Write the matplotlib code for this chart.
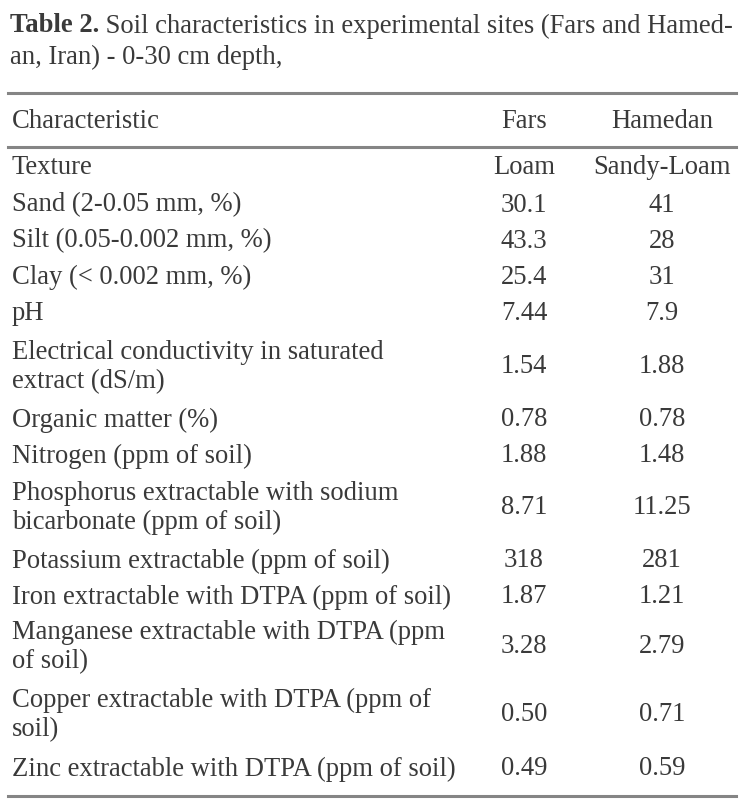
import matplotlib
matplotlib.use("Agg")
import matplotlib.pyplot as plt
from matplotlib.lines import Line2D

W, H = 746, 804
FONT = "Liberation Serif"
TXT = "#3a3a3a"
RULE = "#858585"

title_bold = "Table 2."
title_rest1 = " Soil characteristics in experimental sites (Fars and Hamed-"
title_rest2 = "an, Iran) - 0-30 cm depth,"

col_headers = ["Characteristic", "Fars", "Hamedan"]
characteristics = [
    "Texture",
    "Sand (2-0.05 mm, %)",
    "Silt (0.05-0.002 mm, %)",
    "Clay (< 0.002 mm, %)",
    "pH",
    "Electrical conductivity in saturated\nextract (dS/m)",
    "Organic matter (%)",
    "Nitrogen (ppm of soil)",
    "Phosphorus extractable with sodium\nbicarbonate (ppm of soil)",
    "Potassium extractable (ppm of soil)",
    "Iron extractable with DTPA (ppm of soil)",
    "Manganese extractable with DTPA (ppm\nof soil)",
    "Copper extractable with DTPA (ppm of\nsoil)",
    "Zinc extractable with DTPA (ppm of soil)",
]
fars = ["Loam", "30.1", "43.3", "25.4", "7.44", "1.54", "0.78", "1.88",
        "8.71", "318", "1.87", "3.28", "0.50", "0.49"]
hamedan = ["Sandy-Loam", "41", "28", "31", "7.9", "1.88", "0.78", "1.48",
           "11.25", "281", "1.21", "2.79", "0.71", "0.59"]

fig = plt.figure(figsize=(W / 100, H / 100), dpi=100)
fig.patch.set_facecolor("white")

def fy(y):
    return 1 - y / H

def fx(x):
    return x / W

FS = 19.2

# title
renderer = fig.canvas.get_renderer()
t = fig.text(fx(10), fy(26), title_bold, fontsize=FS, fontweight="bold",
             family=FONT, color=TXT, va="center", ha="left")
bb = t.get_window_extent(renderer=renderer)
fig.text(bb.x1 / W, fy(26), title_rest1, fontsize=FS, family=FONT,
         color=TXT, va="center", ha="left")
fig.text(fx(10), fy(57), title_rest2, fontsize=FS, family=FONT,
         color=TXT, va="center", ha="left")

# rules
for y in [94, 148, 797]:
    fig.add_artist(Line2D([fx(8), fx(736)], [fy(y), fy(y)], color=RULE,
                          lw=2.2, transform=fig.transFigure))

# header
col_x = [12, 524, 662]
fig.text(fx(col_x[0]), fy(122), col_headers[0], fontsize=FS, family=FONT,
         color=TXT, va="center", ha="left")
fig.text(fx(col_x[1]), fy(122), col_headers[1], fontsize=FS, family=FONT,
         color=TXT, va="center", ha="center")
fig.text(fx(col_x[2]), fy(122), col_headers[2], fontsize=FS, family=FONT,
         color=TXT, va="center", ha="center")

row_y = [168, 205, 241, 277, 314, 367, 420, 456, 508, 561, 597, 647, 715, 769]
for label, a, b, y in zip(characteristics, fars, hamedan, row_y):
    fig.text(fx(col_x[0]), fy(y), label, fontsize=FS, family=FONT,
             color=TXT, va="center", ha="left", linespacing=1.25)
    fig.text(fx(col_x[1]), fy(y), a, fontsize=FS, family=FONT,
             color=TXT, va="center", ha="center")
    fig.text(fx(col_x[2]), fy(y), b, fontsize=FS, family=FONT,
             color=TXT, va="center", ha="center")

fig.savefig("out.png", dpi=100, facecolor="white")
